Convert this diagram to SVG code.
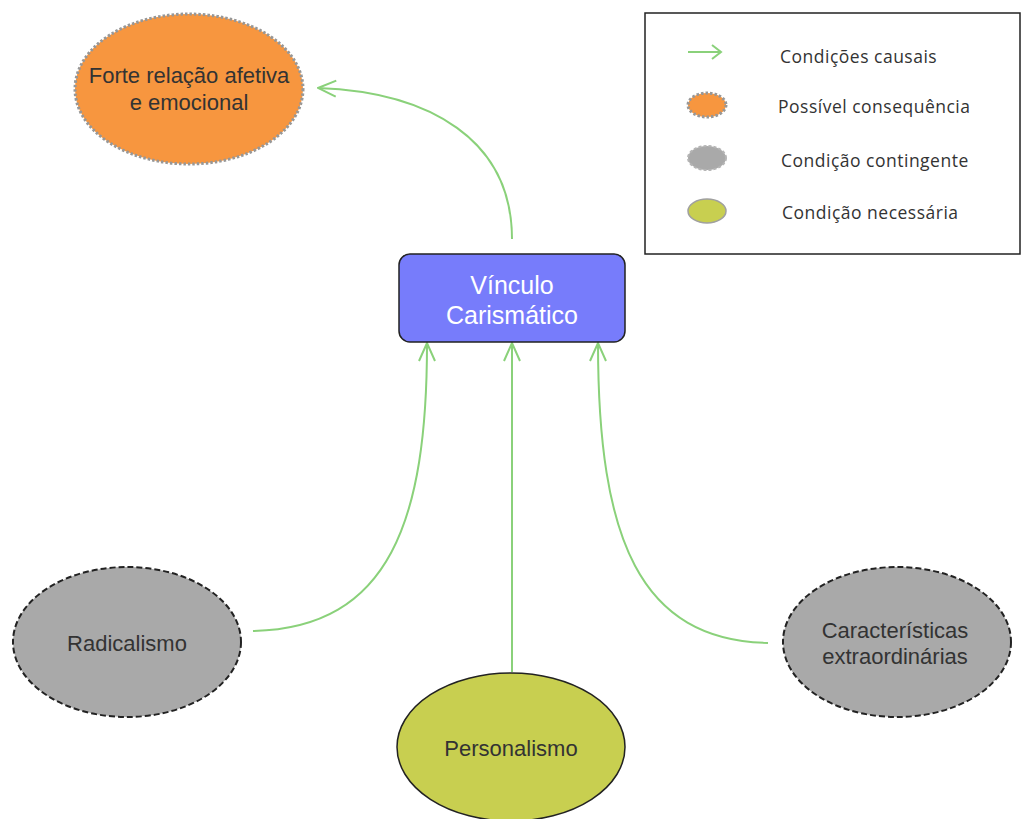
<svg xmlns="http://www.w3.org/2000/svg" width="1022" height="819" viewBox="0 0 1022 819">
  <defs>
    <style>
      .lbl { font-family: "Liberation Sans", Arial, sans-serif; font-size: 22px; fill: #333333; text-anchor: middle; }
      .lbl-w { font-family: "Liberation Sans", Arial, sans-serif; font-size: 25px; fill: #ffffff; text-anchor: middle; }
      .leg { font-family: "Open Sans", "Noto Sans", sans-serif; font-size: 17.5px; letter-spacing: 0.5px; fill: #333333; }
      .conn { fill: none; stroke: #8ad17a; stroke-width: 2; marker-end: url(#open-arrow); }
      .consequence { fill: #f7963f; stroke: #979797; stroke-width: 3; stroke-dasharray: 2.5 2; }
      .contingent { fill: #a9a9a9; stroke: #222222; stroke-width: 2; stroke-dasharray: 6 3; }
      .necessary { fill: #c8cf50; stroke: #222222; stroke-width: 1.5; }
    </style>
    <marker id="open-arrow" viewBox="0 0 20 20" refX="19" refY="10" markerWidth="20" markerHeight="20" markerUnits="userSpaceOnUse" orient="auto">
      <path d="M1,2 L19,10 L1,18" fill="none" stroke="#8ad17a" stroke-width="2"/>
    </marker>
  </defs>

  <rect width="1022" height="819" fill="#ffffff"/>

  <!-- connectors -->
  <g id="connectors">
    <path class="conn" d="M512,239 C512,140 430,92 318,88"/>
    <path class="conn" d="M253,631 C390,628 427,520 427,343"/>
    <path class="conn" d="M512,672 L512,343"/>
    <path class="conn" d="M768,643 C640,640 598,540 598,343"/>
  </g>

  <!-- nodes -->
  <g id="node-forte-relacao">
    <ellipse class="consequence" cx="189" cy="89" rx="114" ry="75"/>
    <text class="lbl" x="189" y="83">Forte relação afetiva</text>
    <text class="lbl" x="189" y="110">e emocional</text>
  </g>

  <g id="node-vinculo">
    <rect x="399" y="254" width="226" height="88" rx="11" ry="11" fill="#777cfb" stroke="#222222" stroke-width="1.5"/>
    <text class="lbl-w" x="512" y="294">Vínculo</text>
    <text class="lbl-w" x="512" y="324">Carismático</text>
  </g>

  <g id="node-radicalismo">
    <ellipse class="contingent" cx="127" cy="642" rx="114" ry="75"/>
    <text class="lbl" x="127" y="651">Radicalismo</text>
  </g>

  <g id="node-personalismo">
    <ellipse class="necessary" cx="511" cy="747" rx="114" ry="74"/>
    <text class="lbl" x="511" y="756">Personalismo</text>
  </g>

  <g id="node-caracteristicas">
    <ellipse class="contingent" cx="897" cy="642" rx="114" ry="75"/>
    <text class="lbl" x="895" y="638">Características</text>
    <text class="lbl" x="895" y="664">extraordinárias</text>
  </g>

  <!-- legend -->
  <g id="legend">
    <rect x="645" y="13" width="375" height="241" fill="#ffffff" stroke="#222222" stroke-width="1.5"/>
    <path d="M688,52 L721,52 M712,45 L721,52 L712,59" fill="none" stroke="#8ad17a" stroke-width="2"/>
    <text class="leg" x="780" y="63">Condições causais</text>
    <ellipse cx="707" cy="105" rx="19" ry="12" fill="#f7963f" stroke="#979797" stroke-width="3" stroke-dasharray="2.5 2"/>
    <text class="leg" x="778" y="113">Possível consequência</text>
    <ellipse cx="707" cy="158" rx="19" ry="12" fill="#a9a9a9" stroke="#b5b5b5" stroke-width="2" stroke-dasharray="3 2"/>
    <text class="leg" x="781" y="167">Condição contingente</text>
    <ellipse cx="707" cy="211" rx="19" ry="12" fill="#c8cf50" stroke="#a0a0a0" stroke-width="1.5"/>
    <text class="leg" x="782" y="219">Condição necessária</text>
  </g>
</svg>
